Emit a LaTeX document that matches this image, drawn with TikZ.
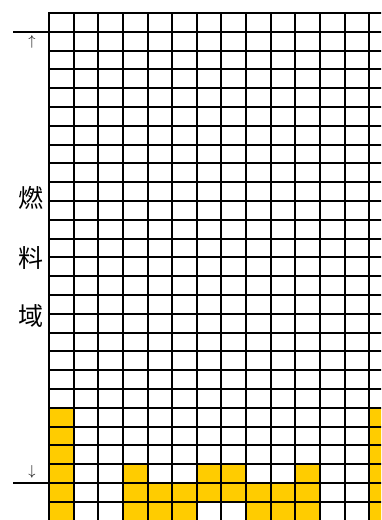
\documentclass[tikz,border=0pt]{standalone}
\usepackage{fontspec}
\newfontfamily\cjk{Noto Sans CJK SC}
\definecolor{fuel}{HTML}{FFCC00}
\tikzset{
  gridline/.style={line width=2pt, draw=black},
  border/.style={line width=2.7pt, draw=black},
  marker/.style={line width=2.4pt, draw=black},
  cjklabel/.style={font=\cjk\fontsize{25}{25}\selectfont, inner sep=0pt},
  arrowlabel/.style={font=\fontsize{15}{15}\selectfont, inner sep=0pt},
  fuelcell/.style={fill=fuel}
}
\begin{document}
\begin{tikzpicture}[x=1pt,y=-1pt]
\useasboundingbox (0,0) rectangle (381,520);
\begin{scope}
\clip (0,0) rectangle (381,520);
% yellow cells
\foreach \c/\r in {0/21,0/22,0/23,0/24,0/25,0/26,
                   13/21,13/22,13/23,13/24,13/25,13/26,
                   3/24,3/25,3/26,4/25,4/26,5/25,5/26,
                   6/24,6/25,7/24,7/25,8/25,8/26,9/25,9/26,
                   10/24,10/25,10/26}
  \fill[fuelcell] ({49+\c*24.64},{13+\r*18.8}) rectangle ++(24.64,18.8);
% horizontal lines
\foreach \i in {0,...,27}
  \draw[gridline] (49,{13+\i*18.8}) -- (382,{13+\i*18.8});
% vertical lines
\foreach \j in {1,...,14}
  \draw[gridline] ({49+\j*24.64},12) -- ({49+\j*24.64},521);
\draw[border] (49,12) -- (49,521);
\end{scope}
% markers
\coordinate (topL) at (13,32);
\coordinate (topR) at (49,32);
\coordinate (botL) at (13,483);
\coordinate (botR) at (49,483);
\draw[marker] (topL) -- (topR);
\draw[marker] (botL) -- (botR);
\node[arrowlabel] (up) at (32,42) {$\uparrow$};
\node[arrowlabel] (down) at (32,472) {$\downarrow$};
\node[cjklabel] (ran) at (31,198) {燃};
\node[cjklabel] (liao) at (31,258) {料};
\node[cjklabel] (yu) at (31,316) {域};
\end{tikzpicture}
\end{document}
